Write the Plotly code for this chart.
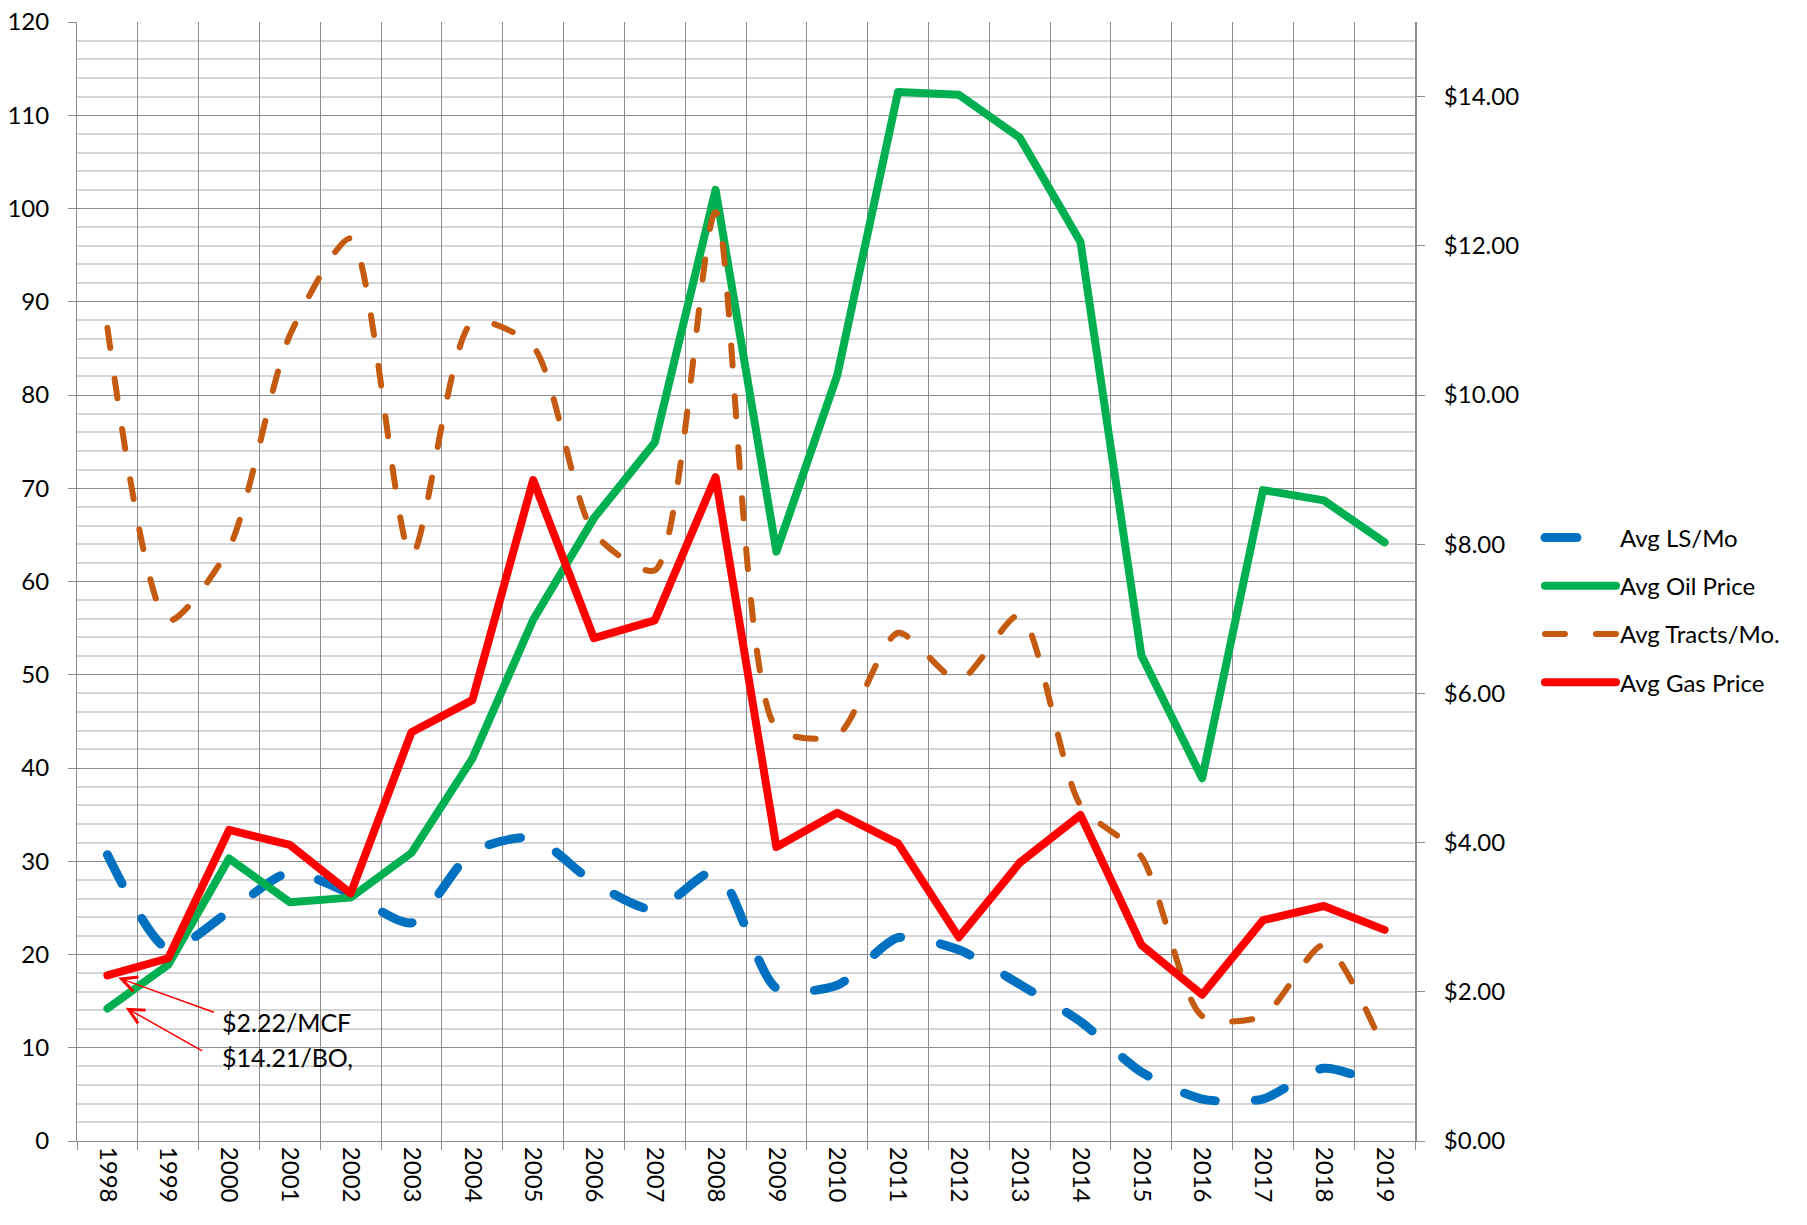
import plotly.graph_objects as go

years = [str(y) for y in range(1998, 2020)]
ls_mo = [30.7, 20.6, 24.6, 28.8, 26.5, 23.4, 31.0, 32.5, 27.7, 24.8, 28.9,
         16.4, 16.7, 21.8, 20.5, 16.8, 12.8, 7.4, 4.5, 4.5, 7.8, 5.8]
oil_price = [14.21, 18.9, 30.3, 25.6, 26.1, 30.9, 41.0, 55.9, 66.8, 74.9, 102.0,
             63.2, 82.1, 112.5, 112.2, 107.6, 96.4, 52.1, 38.9, 69.8, 68.7, 64.2]
tracts_mo = [87.2, 55.8, 63.6, 86.4, 96.8, 62.8, 87.8, 85.2, 65.2, 61.2, 99.6,
             44.3, 43.5, 54.5, 49.4, 56.4, 36.0, 30.5, 13.4, 13.4, 21.0, 9.7]
gas_price = [2.22, 2.45, 4.17, 3.97, 3.32, 5.48, 5.91, 8.86, 6.74, 6.98, 8.90,
             3.94, 4.40, 3.99, 2.73, 3.73, 4.37, 2.63, 1.96, 2.96, 3.15, 2.83]

FONT = "Lato"
GRID = "#8c8c8c"
MINOR = "#d6d6d6"

fig = go.Figure()
fig.add_trace(go.Scatter(
    x=years, y=ls_mo, name="Avg LS/Mo", mode="lines", legendgroup="a",
    line=dict(color="#0070C0", width=9, dash="32px,40px", shape="spline", smoothing=0.7)))
fig.add_trace(go.Scatter(
    x=years, y=oil_price, name="Avg Oil Price", mode="lines", legendgroup="b",
    line=dict(color="#00B050", width=8)))
fig.add_trace(go.Scatter(
    x=years, y=tracts_mo, name="Avg Tracts/Mo.", mode="lines", legendgroup="c",
    line=dict(color="#C55A11", width=6, dash="20px,31px", shape="spline", smoothing=0.7)))
fig.add_trace(go.Scatter(
    x=years, y=gas_price, name="Avg Gas Price", mode="lines", legendgroup="d",
    yaxis="y2", line=dict(color="#FF0000", width=8)))

fig.update_layout(
    width=1807, height=1225,
    margin=dict(l=77, r=392, t=22, b=84, autoexpand=False),
    paper_bgcolor="white", plot_bgcolor="white",
    font=dict(family=FONT, size=24, color="black"),
    showlegend=True,
    legend=dict(x=1.0934, y=0.559, xanchor="left", yanchor="top",
                traceorder="grouped", tracegroupgap=14, itemwidth=70,
                font=dict(family=FONT, size=24, color="black"),
                bgcolor="rgba(0,0,0,0)"),
    xaxis=dict(type="category", tickson="boundaries", ticks="outside", ticklen=8,
               tickcolor=GRID, showgrid=True, gridcolor=GRID, gridwidth=1,
               tickangle=90, showline=True, linecolor=GRID, linewidth=1,
               range=[-0.5, 21.5], tickfont=dict(size=24), automargin=False),
    yaxis=dict(range=[0, 120], dtick=10, ticks="outside", ticklen=8, tickcolor=GRID,
               showgrid=True, gridcolor=GRID, gridwidth=1, zeroline=False,
               showline=True, linecolor=GRID, ticklabelstandoff=14,
               minor=dict(dtick=2, showgrid=True, gridcolor=MINOR, gridwidth=1.5),
               tickfont=dict(size=24), automargin=False),
    yaxis2=dict(range=[0, 15], dtick=2, overlaying="y", side="right",
                tickprefix="$", tickformat=".2f", showgrid=False, zeroline=False,
                ticks="outside", ticklen=8, tickcolor=GRID, showline=True,
                linecolor=GRID, linewidth=2, ticklabelstandoff=14,
                tickfont=dict(size=24), automargin=False),
)

# annotation arrows
fig.add_annotation(x=0.18, y=17.5, xref="x", yref="y", text="", showarrow=True,
                   ax=97, ay=35, arrowcolor="#FF0000", arrowwidth=1.5,
                   arrowhead=5, arrowsize=2)
fig.add_annotation(x=0.30, y=14.3, xref="x", yref="y", text="", showarrow=True,
                   ax=78, ay=44, arrowcolor="#FF0000", arrowwidth=1.5,
                   arrowhead=5, arrowsize=2)
fig.add_annotation(x=1.85, y=12.76, xref="x", yref="y", text="$2.22/MCF",
                   showarrow=False, xanchor="left", yanchor="middle",
                   font=dict(family=FONT, size=25, color="black"))
fig.add_annotation(x=1.85, y=9.0, xref="x", yref="y", text="$14.21/BO,",
                   showarrow=False, xanchor="left", yanchor="middle",
                   font=dict(family=FONT, size=25, color="black"))

css = ("body{margin:0}"
       ".scatterlayer .js-line{stroke-linecap:round;stroke-linejoin:round}"
       ".legendlines path{stroke-linecap:round;d:path('M5,0h71')}")
post = ("var s=document.createElement('style');s.innerHTML=\"" + css +
        "\";document.head.appendChild(s);")
fig.write_html("out.html", post_script=post, config={"displayModeBar": False})
